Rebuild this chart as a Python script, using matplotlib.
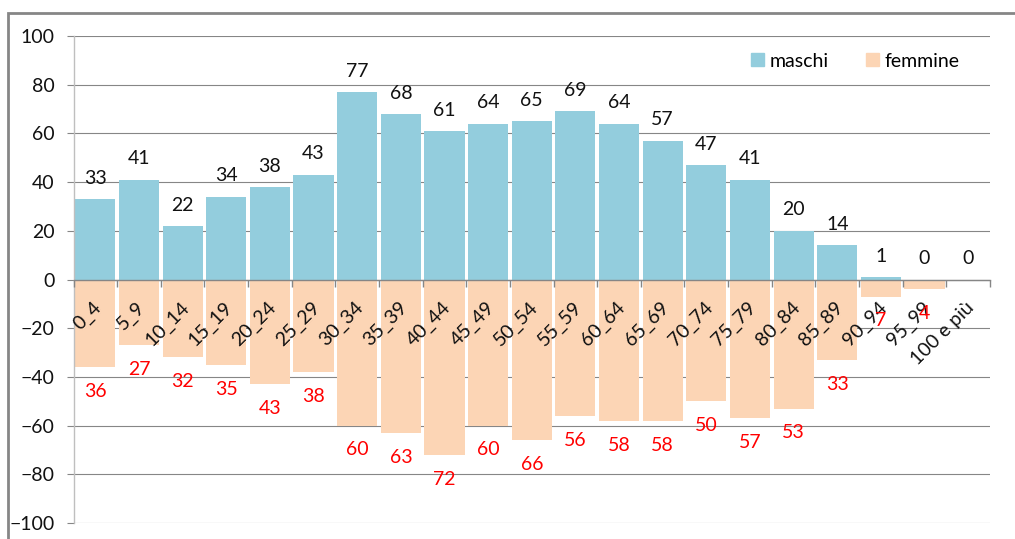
import matplotlib
matplotlib.use('Agg')
import matplotlib.pyplot as plt
from matplotlib.patches import Rectangle, Patch
import numpy as np

plt.rcParams['font.family'] = ['Lato', 'DejaVu Sans']

classi = ['0_4', '5_9', '10_14', '15_19', '20_24', '25_29', '30_34', '35_39',
          '40_44', '45_49', '50_54', '55_59', '60_64', '65_69', '70_74',
          '75_79', '80_84', '85_89', '90_94', '95_99', '100 e più']
maschi = [33, 41, 22, 34, 38, 43, 77, 68, 61, 64, 65, 69, 64, 57, 47, 41,
          20, 14, 1, 0, 0]
femmine = [36, 27, 32, 35, 43, 38, 60, 63, 72, 60, 66, 56, 58, 58, 50, 57,
           53, 33, 7, 4, 0]

COL_M = '#93CDDD'
COL_F = '#FCD5B5'
GRID = '#868686'
FS = 14

fig = plt.figure(figsize=(10.15, 5.39), dpi=100)
ax = fig.add_axes([73.5 / 1015, 1 - 523 / 539, (990 - 73.5) / 1015, 487 / 539])

# cornice esterna
fig.patches.append(Rectangle((8 / 1015, -0.2), 1.2, 1.2 - 13 / 539,
                             transform=fig.transFigure, fill=False,
                             edgecolor=GRID, linewidth=2, zorder=0))

x = np.arange(len(classi))
f_neg = [-v for v in femmine]
ax.bar(x, maschi, width=0.92, color=COL_M, zorder=2)
ax.bar(x, f_neg, width=0.92, color=COL_F, zorder=2)

for xi, m, f in zip(x, maschi, femmine):
    ax.annotate(str(m), (xi, m), xytext=(0, 15), textcoords='offset points',
                ha='center', va='center', fontsize=FS, color='#111111', zorder=4)
    if f > 0:
        ax.annotate(str(f), (xi, -f), xytext=(0, -17.5), textcoords='offset points',
                    ha='center', va='center', fontsize=FS, color='#FF0000', zorder=4)

ax.set_xlim(-0.5, len(classi) - 0.5)
ax.set_ylim(-100, 100)
ax.set_yticks(np.arange(-100, 101, 20))
ax.yaxis.grid(True, color=GRID, linewidth=0.8)
ax.set_axisbelow(True)
ax.xaxis.set_zorder(3.5)

for s in ['top', 'right']:
    ax.spines[s].set_visible(False)
ax.spines['left'].set_color('#BFBFBF')
ax.spines['left'].set_linewidth(1)
ax.spines['bottom'].set_position(('data', 0))
ax.spines['bottom'].set_color(GRID)
ax.spines['bottom'].set_linewidth(1)
ax.spines['bottom'].set_zorder(3)

# tacche ai confini delle classi, etichette ruotate al centro
ax.set_xticks(np.arange(-0.5, len(classi), 1.0))
ax.set_xticklabels([])
ax.set_xticks(x + 0.08, minor=True)
ax.set_xticklabels(classi, minor=True, rotation=45, ha='right', va='center',
                   rotation_mode='anchor', fontsize=FS, color='#111111')
ax.tick_params(axis='x', which='major', direction='out', length=5,
               color=GRID, width=1)
ax.tick_params(axis='x', which='minor', length=0, pad=18)
ax.tick_params(axis='y', direction='out', length=4.7, color=GRID, width=0.8,
               labelsize=FS, labelcolor='#111111', pad=9)

handles = [Patch(color=COL_M, label='maschi'), Patch(color=COL_F, label='femmine')]
ax.legend(handles=handles, loc='center left', ncol=2, frameon=False,
          bbox_to_anchor=((751 - 73.5) / 916.5, (523 - 61) / 487),
          fontsize=FS, handlelength=0.67, handleheight=0.62,
          handletextpad=0.3, columnspacing=1.9, borderpad=0, borderaxespad=0)

fig.savefig('out.png', dpi=100)
